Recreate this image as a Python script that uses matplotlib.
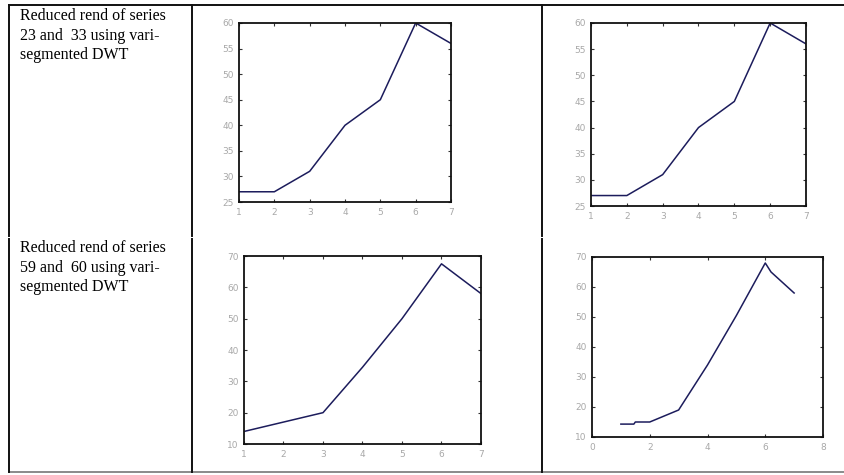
import matplotlib.pyplot as plt
from matplotlib.lines import Line2D

# row labels (left column)
row_text = ["Reduced rend of series\n23 and  33 using vari-\nsegmented DWT",
            "Reduced rend of series\n59 and  60 using vari-\nsegmented DWT"]

# series 23 / 33
x_top = [1, 2, 3, 4, 5, 6, 7]
y_s23 = [27, 27, 31, 40, 45, 60, 56]
y_s33 = [27, 27, 31, 40, 45, 60, 56]

# series 59 / 60
x_59 = [1, 2, 3, 4, 5, 6, 7]
y_59 = [14, 17, 20, 34.5, 50, 67.5, 58]
x_60 = [1, 1.45, 1.5, 2, 3, 4, 5, 6, 6.2, 7]
y_60 = [14.3, 14.3, 15, 15, 19, 34, 50.5, 68, 65, 58]

line_col = "#1c1c5c"
tick_col = "#a8a8a8"

fig = plt.figure(figsize=(8.45, 4.75), dpi=100)
W, H = 845.0, 475.0


def px_axes(x0, y0, x1, y1):
    return fig.add_axes([x0 / W, 1 - y1 / H, (x1 - x0) / W, (y1 - y0) / H])


def style(ax, xlim, ylim, xticks, yticks):
    ax.set_xlim(*xlim)
    ax.set_ylim(*ylim)
    ax.set_xticks(xticks)
    ax.set_yticks(yticks)
    ax.tick_params(direction="in", length=2.5, width=0.8, colors="#333333",
                   labelcolor=tick_col, labelsize=6.5, top=True, right=True, pad=4)
    for s in ax.spines.values():
        s.set_linewidth(1.3)
        s.set_color("#111111")


ax1 = px_axes(239, 23, 451, 202)
ax1.plot(x_top, y_s23, color=line_col, lw=1.1)
style(ax1, (1, 7), (25, 60), range(1, 8), range(25, 61, 5))

ax2 = px_axes(591, 23, 806, 206)
ax2.plot(x_top, y_s33, color=line_col, lw=1.1)
style(ax2, (1, 7), (25, 60), range(1, 8), range(25, 61, 5))

ax3 = px_axes(244, 256, 481, 444)
ax3.plot(x_59, y_59, color=line_col, lw=1.1)
style(ax3, (1, 7), (10, 70), range(1, 8), range(10, 71, 10))

ax4 = px_axes(592, 257, 823, 437)
ax4.plot(x_60, y_60, color=line_col, lw=1.1)
style(ax4, (0, 8), (10, 70), range(0, 9, 2), range(10, 71, 10))

# table rules drawn in figure pixel coords
def hline(y, x0, x1, col="#111111", lw=1.4):
    fig.add_artist(Line2D([x0 / W, x1 / W], [1 - y / H, 1 - y / H], color=col, lw=lw))


def vline(x, y0, y1, col="#111111", lw=1.4):
    fig.add_artist(Line2D([x / W, x / W], [1 - y0 / H, 1 - y1 / H], color=col, lw=lw))


hline(5, 9, 845)
hline(472, 9, 845, col="#777777", lw=1.2)
for xv in [9, 192, 542]:
    vline(xv, 5, 236)
    vline(xv, 239, 472)

fig.text(20 / W, 1 - 8 / H, row_text[0], family="Liberation Serif", fontsize=11.5,
         va="top", ha="left", linespacing=1.3)
fig.text(20 / W, 1 - 240 / H, row_text[1], family="Liberation Serif", fontsize=11.5,
         va="top", ha="left", linespacing=1.3)

fig.savefig("out.png", dpi=100)
